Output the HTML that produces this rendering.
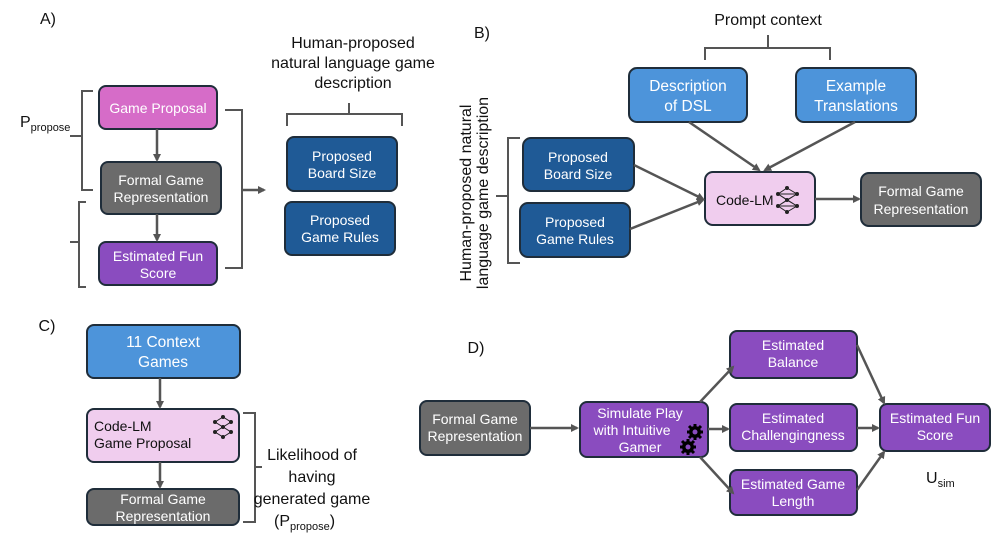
<!DOCTYPE html>
<html><head><meta charset="utf-8"><style>
html,body{margin:0;padding:0;background:#fff}
svg{display:block;font-family:"Liberation Sans",sans-serif}
</style></head><body>
<svg width="997" height="534" viewBox="0 0 997 534" xmlns="http://www.w3.org/2000/svg">
<defs>
<marker id="ah" markerWidth="8" markerHeight="8" refX="6" refY="4" orient="auto" markerUnits="userSpaceOnUse">
<path d="M0,0 L8,4 L0,8 z" fill="#555"/></marker>
</defs>
<g stroke="#1f2d3a" stroke-width="2">
<!-- A -->
<rect x="99" y="86" width="118" height="43" rx="7" fill="#d66cc8"/>
<rect x="101" y="162" width="120" height="52" rx="7" fill="#6b6b6b"/>
<rect x="99" y="242" width="118" height="43" rx="7" fill="#8a4cbf"/>
<rect x="287" y="137" width="110" height="54" rx="7" fill="#1f5a96"/>
<rect x="285" y="202" width="110" height="53" rx="7" fill="#1f5a96"/>
<!-- B -->
<rect x="629" y="68" width="118" height="54" rx="8" fill="#4d94da"/>
<rect x="796" y="68" width="120" height="54" rx="8" fill="#4d94da"/>
<rect x="523" y="138" width="111" height="53" rx="8" fill="#1f5a96"/>
<rect x="520" y="203" width="110" height="54" rx="8" fill="#1f5a96"/>
<rect x="705" y="172" width="110" height="53" rx="8" fill="#f0cdee"/>
<rect x="861" y="173" width="120" height="53" rx="8" fill="#6b6b6b"/>
<!-- C -->
<rect x="87" y="325" width="153" height="53" rx="7" fill="#4d94da"/>
<rect x="87" y="409" width="152" height="53" rx="7" fill="#f0cdee"/>
<rect x="87" y="489" width="152" height="36" rx="7" fill="#6b6b6b"/>
<!-- D -->
<rect x="420" y="401" width="110" height="54" rx="7" fill="#6b6b6b"/>
<rect x="580" y="402" width="128" height="55" rx="7" fill="#8a4cbf"/>
<rect x="730" y="331" width="127" height="47" rx="7" fill="#8a4cbf"/>
<rect x="730" y="404" width="127" height="47" rx="7" fill="#8a4cbf"/>
<rect x="730" y="470" width="127" height="45" rx="7" fill="#8a4cbf"/>
<rect x="880" y="404" width="110" height="47" rx="7" fill="#8a4cbf"/>
</g>
<g stroke="#555" stroke-width="2.5" fill="none" marker-end="url(#ah)">
<line x1="157" y1="129" x2="157" y2="160"/>
<line x1="157" y1="214" x2="157" y2="240"/>
<line x1="242" y1="190" x2="264" y2="190"/>
<line x1="689" y1="122" x2="759" y2="170"/>
<line x1="855" y1="122" x2="765" y2="170"/>
<line x1="634" y1="165" x2="703" y2="199"/>
<line x1="630" y1="229" x2="703" y2="200"/>
<line x1="815" y1="199" x2="859" y2="199"/>
<line x1="160" y1="378" x2="160" y2="407"/>
<line x1="160" y1="462" x2="160" y2="487"/>
<line x1="530" y1="428" x2="577" y2="428"/>
<line x1="700" y1="402" x2="733" y2="367"/>
<line x1="708" y1="429" x2="728" y2="429"/>
<line x1="700" y1="457" x2="733" y2="493"/>
<line x1="857" y1="345" x2="884" y2="403"/>
<line x1="857" y1="428" x2="878" y2="428"/>
<line x1="857" y1="490" x2="884" y2="452"/>
</g>
<g stroke="#555" stroke-width="2" fill="none">
<path d="M225,110 H242 V268 H225"/>
<path d="M93,91 H82 V136 H70 M82,136 V190 H93"/>
<path d="M86,202 H79 V242 H70 M79,242 V287 H86"/>
<path d="M287,126 V114 H349 V103 M349,114 H402 V126"/>
<path d="M520,138 H508 V196 H496 M508,196 V263 H520"/>
<path d="M705,60 V48 H768 V35 M768,48 H830 V60"/>
<path d="M243,413 H255 V467 H262 M255,467 V522 H243"/>
</g>
<!-- neural net icon -->
<g stroke="#222" stroke-width="1" fill="none">
<path d="M787,188 L797,194 L787,200 L797,206 L787,212 M787,188 L778,194 L787,200 L778,206 L787,212 M778,194 L797,194 M778,206 L797,206 M778,194 L797,206 M778,206 L797,194"/>
</g>
<g fill="#222"><circle cx="787" cy="188" r="2"/><circle cx="778" cy="194" r="2"/><circle cx="797" cy="194" r="2"/><circle cx="787" cy="200" r="2"/><circle cx="778" cy="206" r="2"/><circle cx="797" cy="206" r="2"/><circle cx="787" cy="212" r="2"/></g>
<g stroke="#222" stroke-width="1" fill="none">
<path d="M215,422 l8,-5 l8,5 l-8,5 z M215,432 l8,-5 l8,5 l-8,5 z"/></g>
<g fill="#222"><circle cx="215" cy="422" r="2"/><circle cx="223" cy="417" r="2"/><circle cx="231" cy="422" r="2"/><circle cx="223" cy="427" r="2"/><circle cx="215" cy="432" r="2"/><circle cx="231" cy="432" r="2"/><circle cx="223" cy="437" r="2"/></g>
<!-- gears -->
<g fill="#000">
<circle cx="695" cy="432" r="6"/><circle cx="688" cy="447" r="6"/>
</g>
<g stroke="#000" stroke-width="3">
<path d="M695,424 V440 M687,432 H703 M689,426 L701,438 M701,426 L689,438"/>
<path d="M688,439 V455 M680,447 H696 M682,441 L694,453 M694,441 L682,453"/>
</g>
<g fill="#8a4cbf"><circle cx="695" cy="432" r="2.5"/><circle cx="688" cy="447" r="2.5"/></g>
<!-- box text -->
<g fill="#fff" font-size="14" text-anchor="middle">
<text x="158" y="113">Game Proposal</text>
<text x="161" y="185">Formal Game</text><text x="161" y="202">Representation</text>
<text x="158" y="261">Estimated Fun</text><text x="158" y="278">Score</text>
<text x="342" y="161">Proposed</text><text x="342" y="178">Board Size</text>
<text x="340" y="225">Proposed</text><text x="340" y="242">Game Rules</text>
<text x="688" y="91" font-size="15.5">Description</text><text x="688" y="111" font-size="15.5">of DSL</text>
<text x="856" y="91" font-size="15.5">Example</text><text x="856" y="111" font-size="15.5">Translations</text>
<text x="578" y="162">Proposed</text><text x="578" y="179">Board Size</text>
<text x="575" y="227">Proposed</text><text x="575" y="244">Game Rules</text>
<text x="921" y="196">Formal Game</text><text x="921" y="214">Representation</text>
<text x="163" y="347" font-size="15.5">11 Context</text><text x="163" y="367" font-size="15.5">Games</text>
<text x="163" y="504">Formal Game</text><text x="163" y="521">Representation</text>
<text x="475" y="424">Formal Game</text><text x="475" y="441">Representation</text>
<text x="640" y="418">Simulate Play</text><text x="632" y="435">with Intuitive</text><text x="640" y="452">Gamer</text>
<text x="793" y="350">Estimated</text><text x="793" y="367">Balance</text>
<text x="793" y="423">Estimated</text><text x="793" y="440">Challengingness</text>
<text x="793" y="489">Estimated Game</text><text x="793" y="506">Length</text>
<text x="935" y="423">Estimated Fun</text><text x="935" y="440">Score</text>
</g>
<g fill="#111" font-size="14">
<text x="716" y="205">Code-LM</text>
<text x="94" y="431">Code-LM</text><text x="94" y="448">Game Proposal</text>
</g>
<!-- labels -->
<g fill="#111" font-size="16" text-anchor="middle">
<text x="48" y="24">A)</text>
<text x="353" y="48">Human-proposed</text>
<text x="353" y="68">natural language game</text>
<text x="353" y="88">description</text>
<text x="482" y="38">B)</text>
<text x="768" y="25">Prompt context</text>
<text x="47" y="331">C)</text>
<text x="312" y="460">Likelihood of</text>
<text x="312" y="482">having</text>
<text x="312" y="504">generated game</text>
<text x="476" y="353">D)</text>
<g transform="translate(471,193) rotate(-90)"><text x="0" y="0">Human-proposed natural</text><text x="0" y="17">language game description</text></g>
</g>
<g fill="#111" font-size="16">
<text x="20" y="127">P<tspan font-size="11" dy="4">propose</tspan></text>
<text x="274" y="526">(P<tspan font-size="11" dy="4">propose</tspan><tspan dy="-4">)</tspan></text>
<text x="926" y="483">U<tspan font-size="11" dy="4">sim</tspan></text>
</g>
</svg>
</body></html>
